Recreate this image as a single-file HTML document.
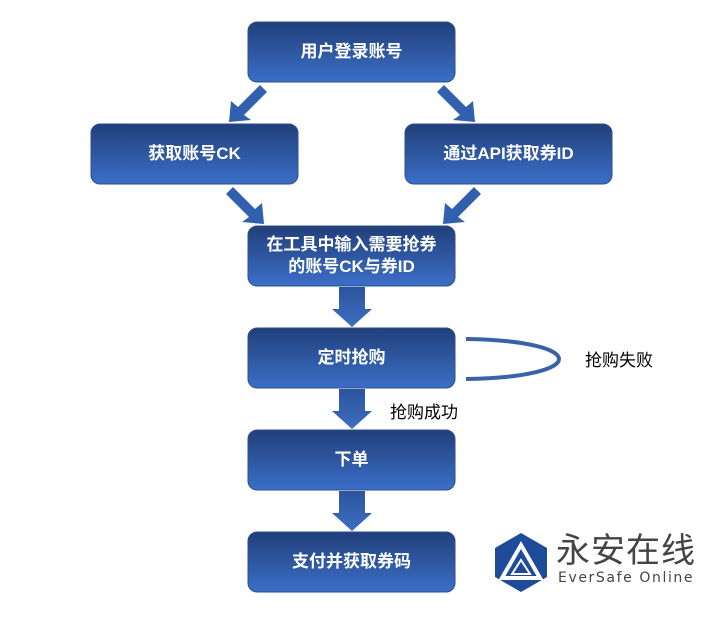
<html><body style="margin:0;width:704px;height:621px;background:#fff;overflow:hidden;font-family:'Liberation Sans','Noto Sans CJK SC',sans-serif">
<svg width="704" height="621" style="position:absolute;left:0;top:0">
<defs>
<linearGradient id="g" x1="0" y1="0" x2="0" y2="1"><stop offset="0" stop-color="#213f7a"/><stop offset="1" stop-color="#3b6fc8"/></linearGradient>
<linearGradient id="a" x1="0" y1="0" x2="0" y2="1"><stop offset="0" stop-color="#2d549c"/><stop offset="1" stop-color="#3d6ec0"/></linearGradient>
</defs>
<g fill="url(#g)" stroke="#2c4f8c" stroke-width="1">
<rect x="248" y="22" width="207" height="60" rx="9"/>
<rect x="91" y="124" width="207" height="60" rx="9"/>
<rect x="405" y="124" width="207" height="60" rx="9"/>
<rect x="248" y="226" width="207" height="60" rx="9"/>
<rect x="248" y="328" width="207" height="60" rx="9"/>
<rect x="248" y="430" width="207" height="60" rx="9"/>
<rect x="248" y="532" width="207" height="60" rx="9"/>
</g>
<g fill="url(#a)">
<polygon points="339,287 365,287 365,309 372,309 352,327 332,309 339,309"/>
<polygon points="339,389 365,389 365,411 372,411 352,429 332,411 339,411"/>
<polygon points="339,491 365,491 365,513 372,513 352,531 332,513 339,513"/>
</g>
<g fill="#3060ae">
<polygon points="260,85 267,92 244,115 251,120 229,122 231,101 238,107"/>
<polygon points="444,85 437,92 460,115 453,120 475,122 473,101 466,107"/>
<polygon points="233,187 226,194 249,217 242,222 264,224 262,203 255,209"/>
<polygon points="474,187 481,194 458,217 465,222 443,224 445,203 452,209"/>
</g>
<path d="M466,339 C590,341 590,377 466,379" fill="none" stroke="#3a62a8" stroke-width="4"/>
<polygon points="521,533 547,548 547,577 521,592 495,577 495,548" fill="#1e4b9a"/>
<path d="M521,545 L540,578 L502,578 Z" fill="none" stroke="#fff" stroke-width="4"/>
<path d="M521,560 L530,574 L512,574 Z" fill="#1e4b9a" stroke="#fff" stroke-width="2"/>
</svg>
<div style="position:absolute;color:#fff;font-weight:bold;font-size:17px;text-align:center;line-height:22px">
<div style="position:absolute;left:248px;top:41px;width:207px">用户登录账号</div>
<div style="position:absolute;left:91px;top:143px;width:207px">获取账号CK</div>
<div style="position:absolute;left:405px;top:143px;width:207px">通过API获取券ID</div>
<div style="position:absolute;left:248px;top:234px;width:207px">在工具中输入需要抢券<br>的账号CK与券ID</div>
<div style="position:absolute;left:248px;top:347px;width:207px">定时抢购</div>
<div style="position:absolute;left:248px;top:449px;width:207px">下单</div>
<div style="position:absolute;left:248px;top:551px;width:207px">支付并获取券码</div>
</div>
<div style="position:absolute;left:585px;top:346px;font-size:17px;color:#000">抢购失败</div>
<div style="position:absolute;left:390px;top:398px;font-size:17px;color:#000">抢购成功</div>
<div style="position:absolute;left:556px;top:531px;font-size:34px;color:#444;letter-spacing:1px;line-height:40px">永安在线</div>
<div style="position:absolute;left:558px;top:570px;font-size:14px;color:#444;letter-spacing:1.6px;font-family:'DejaVu Sans',sans-serif">EverSafe Online</div>
</body></html>
